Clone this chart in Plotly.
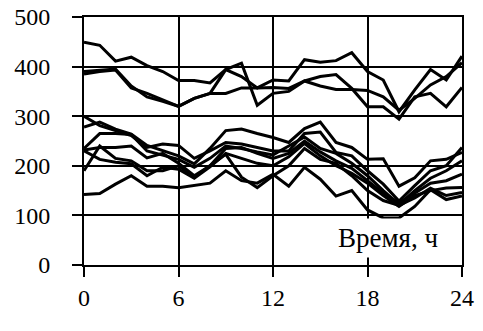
import plotly.graph_objects as go

hours = list(range(25))

# upper group
s1 = [449, 443, 411, 419, 402, 390, 372, 372, 367, 394, 380, 357, 373, 371, 414, 409, 412, 428, 390, 373, 309, 353, 394, 373, 421]
s2 = [390, 393, 395, 361, 339, 330, 320, 336, 346, 394, 407, 322, 346, 350, 371, 361, 354, 354, 352, 339, 312, 336, 363, 380, 408]
s3 = [385, 390, 393, 357, 346, 333, 320, 336, 346, 346, 357, 357, 358, 356, 371, 380, 384, 356, 319, 319, 294, 339, 346, 319, 358]
# lower group
s4 = [300, 281, 271, 261, 237, 244, 241, 215, 230, 247, 244, 237, 230, 230, 265, 268, 227, 220, 190, 163, 129, 160, 190, 200, 237]
s5 = [278, 288, 274, 264, 241, 230, 220, 204, 235, 271, 274, 265, 257, 247, 275, 288, 247, 237, 213, 214, 159, 176, 210, 213, 227]
s6 = [235, 265, 265, 263, 230, 222, 213, 197, 215, 240, 235, 228, 222, 240, 258, 235, 225, 205, 180, 150, 122, 150, 175, 190, 210]
s7 = [232, 237, 237, 240, 216, 225, 205, 180, 200, 235, 237, 225, 215, 225, 250, 228, 210, 195, 170, 145, 125, 145, 165, 170, 183]
s8 = [230, 213, 207, 204, 180, 197, 193, 175, 198, 225, 215, 205, 200, 218, 245, 220, 200, 185, 165, 140, 118, 140, 150, 155, 156]
s9 = [190, 240, 215, 210, 190, 190, 200, 177, 200, 223, 177, 156, 180, 200, 235, 213, 205, 180, 150, 130, 120, 135, 155, 140, 146]
s10 = [142, 144, 163, 180, 159, 159, 156, 160, 165, 190, 170, 165, 183, 159, 197, 173, 139, 150, 111, 95, 95, 118, 152, 132, 139]

series = [s1, s2, s3, s4, s5, s6, s7, s8, s9, s10]
x_ticks = [0, 6, 12, 18, 24]
y_ticks = [0, 100, 200, 300, 400, 500]
label = "Время, ч"

FAM = "Liberation Serif, Times New Roman, serif"

fig = go.Figure()
for s in series:
    fig.add_trace(go.Scatter(x=hours, y=s, mode="lines",
                             line=dict(color="black", width=3),
                             showlegend=False, hoverinfo="skip"))

axis_common = dict(showgrid=True, gridcolor="black", gridwidth=2,
                   showline=True, linecolor="black", linewidth=2, mirror=True,
                   ticks="outside", ticklen=10, tickwidth=2, tickcolor="black",
                   zeroline=False, automargin=False,
                   tickfont=dict(family=FAM, size=24, color="black"))

fig.update_layout(
    template="none",
    width=483, height=331,
    margin=dict(l=84, r=21, t=17, b=66),
    paper_bgcolor="white", plot_bgcolor="white",
    font=dict(family=FAM, size=24, color="black"),
    xaxis=dict(range=[0, 24], tickmode="array", tickvals=x_ticks,
               ticklabelstandoff=0, **axis_common),
    yaxis=dict(range=[0, 500], tickmode="array", tickvals=y_ticks,
               ticklabelstandoff=17, **axis_common),
    annotations=[dict(x=19.3, y=54, xref="x", yref="y", text=label, showarrow=False,
                      font=dict(family=FAM, size=27, color="black"),
                      bgcolor="white", borderpad=4)],
)

fig.write_html("out.html")
